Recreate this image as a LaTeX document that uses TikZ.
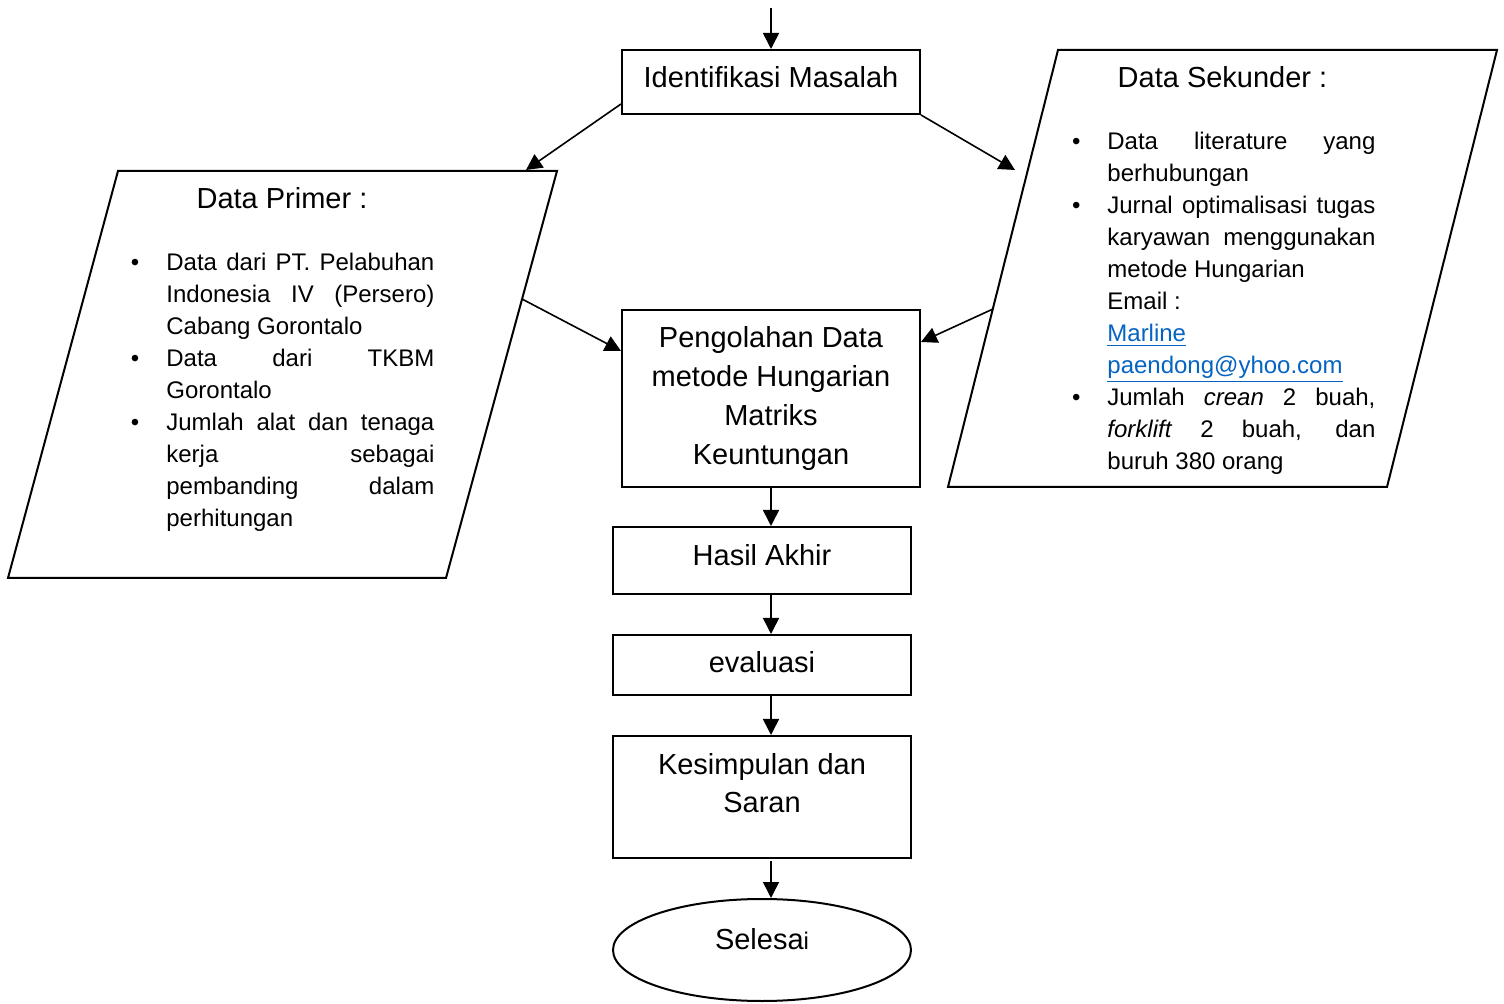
\documentclass[tikz,border=0pt]{standalone}
\usepackage{fontspec}
\setmainfont{Liberation Sans}
\usetikzlibrary{arrows.meta,shapes.geometric,calc}
\definecolor{linkblue}{RGB}{5,99,193}
\newcommand{\bul}{\leavevmode\llap{\textbullet\hspace{13.5pt}}}
\newcommand{\jl}[1]{\makebox[134pt][s]{#1}}
\newcommand{\titlefont}{\fontsize{14.5}{19.5}\selectfont}
\newcommand{\bodyfont}{\fontsize{12}{16}\selectfont}
\begin{document}
\begin{tikzpicture}[x=0.5pt,y=-0.5pt,
  box/.style={draw, line width=1pt, rectangle, inner sep=0pt, minimum width=149pt},
  endbox/.style={draw, line width=1pt, ellipse, inner sep=0pt, minimum width=149pt, minimum height=51pt},
  lab/.style={anchor=base, inner sep=0pt, font=\titlefont},
  para/.style={line width=1pt, line join=miter},
  arr/.style={line width=0.8pt, -{Triangle[length=8pt,width=8pt]}},
  lst/.style={anchor=base west, inner sep=0pt}]
\useasboundingbox (0,0) rectangle (1504,1004);

% boxes
\node[box, minimum height=32pt] (ident) at (771,82) {};
\node[box, minimum height=88.5pt] (peng) at (771,398.5) {};
\node[box, minimum height=33.5pt] (hasil) at (762,560.5) {};
\node[box, minimum height=30pt] (eval) at (762,665) {};
\node[box, minimum height=61pt] (kes) at (762,797) {};
\node[endbox] (sel) at (762,950) {};

% box texts
\node[lab] (identT) at (771,88) {Identifikasi Masalah};
\node[lab] (pengT) at (771,348) {\parbox[t]{148pt}{\centering Pengolahan Data\\metode Hungarian\\Matriks\\Keuntungan}};
\node[lab] (hasilT) at (762,566) {Hasil Akhir};
\node[lab] (evalT) at (762,673) {evaluasi};
\node[lab] (kesT) at (762,774) {\parbox[t]{148pt}{\centering Kesimpulan dan\\Saran}};
\node[lab] (selT) at (762,949) {Selesa{\fontsize{12}{14}\selectfont i}};

% parallelograms
\draw[para] (118,171) coordinate (p1) -- (557,171) coordinate (p2) -- (446,578) coordinate (p3) -- (8,578) coordinate (p4) -- cycle;
\draw[para] (1058,50) coordinate (s1) -- (1497,50) coordinate (s2) -- (1387,487) coordinate (s3) -- (948,487) coordinate (s4) -- cycle;

\node[lab] (primTitle) at (282,209) {Data Primer :};
\node[lab] (sekTitle) at (1222.5,88) {Data Sekunder :};

\node[lst] (primList) at (166,271) {\parbox[t]{134pt}{\bodyfont
\bul\jl{Data dari PT. Pelabuhan}\\
\jl{Indonesia IV (Persero)}\\
Cabang Gorontalo\\
\bul\jl{Data dari TKBM}\\
Gorontalo\\
\bul\jl{Jumlah alat dan tenaga}\\
\jl{kerja sebagai}\\
\jl{pembanding dalam}\\
perhitungan}};

\node[lst] (sekList) at (1107,150) {\parbox[t]{134pt}{\bodyfont
\bul\jl{Data literature yang}\\
berhubungan\\
\bul\jl{Jurnal optimalisasi tugas}\\
\jl{karyawan menggunakan}\\
metode Hungarian\\
Email :\\
\textcolor{linkblue}{\underline{Marline}}\\
\textcolor{linkblue}{\underline{paendong@yhoo.com}}\\
\bul\jl{Jumlah \textit{crean} 2 buah,}\\
\jl{\textit{forklift} 2 buah, dan}\\
buruh 380 orang}};

% connector points
\coordinate (start) at (771,8);
\coordinate (primTip) at (526,170);
\coordinate (sekTip) at (1015,170);
\coordinate (primOut) at (522,299);
\coordinate (sekOut) at (993,309);

% connectors
\draw[arr] (start) -- (ident.north);
\draw[arr] ($(ident.south west)+(0,-11)$) -- (primTip);
\draw[arr] (ident.south east) -- (sekTip);
\draw[arr] (primOut) -- ($(peng.north west)+(0,42)$);
\draw[arr] (sekOut) -- ($(peng.north east)+(0,33)$);
\draw[arr] (peng.south) -- (peng.south |- hasil.north);
\draw[arr] (hasil.south -| peng.south) -- (peng.south |- eval.north);
\draw[arr] (eval.south -| peng.south) -- (peng.south |- kes.north);
\draw[arr] ($(kes.south -| peng.south)+(0,2)$) -- (peng.south |- sel.north);
\end{tikzpicture}
\end{document}
